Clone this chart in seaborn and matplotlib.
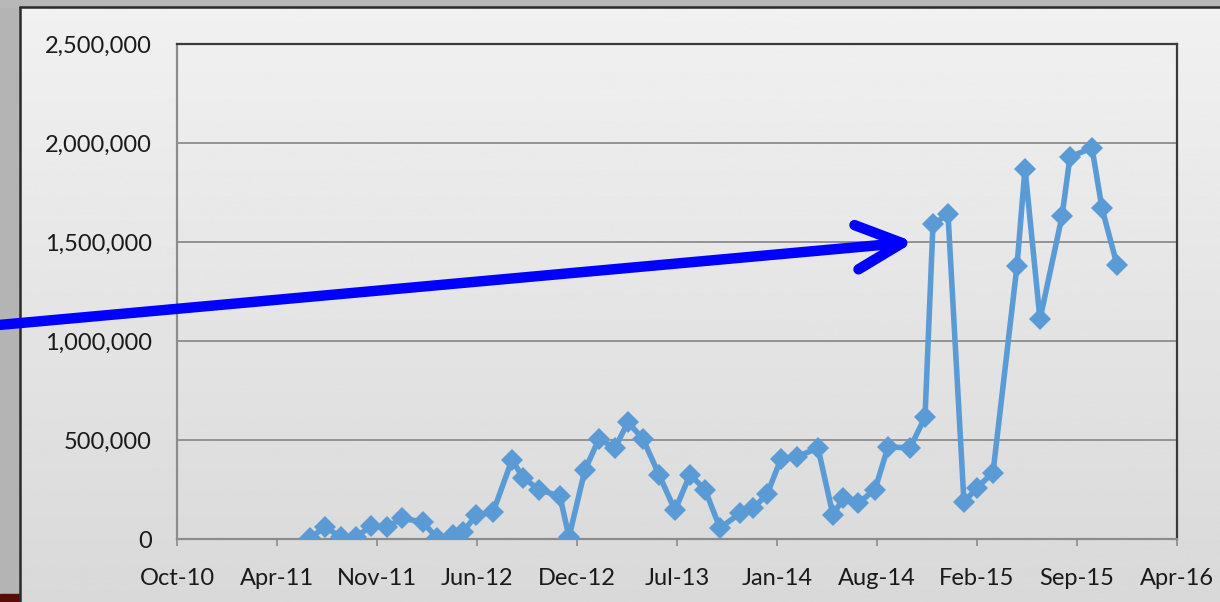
import numpy as np
import pandas as pd
import matplotlib
matplotlib.use("Agg")
import matplotlib.pyplot as plt
import matplotlib.dates as mdates
from matplotlib.ticker import FuncFormatter, MultipleLocator
import seaborn as sns

# Datos
fechas = [
    "2011-07-04", "2011-08-03", "2011-09-04", "2011-10-04", "2011-11-03", "2011-12-05",
    "2012-01-04", "2012-02-15", "2012-03-14", "2012-04-15", "2012-05-05", "2012-05-31",
    "2012-07-04", "2012-08-11", "2012-09-02", "2012-10-04", "2012-11-15", "2012-12-03",
    "2013-01-04", "2013-02-01", "2013-03-05", "2013-03-31", "2013-04-30", "2013-06-01",
    "2013-07-03", "2013-08-02", "2013-09-01", "2013-10-01", "2013-11-10", "2013-12-06",
    "2014-01-03", "2014-01-31", "2014-03-04", "2014-04-15", "2014-05-15", "2014-06-04",
    "2014-07-04", "2014-08-07", "2014-09-02", "2014-10-16", "2014-11-15", "2014-12-01",
    "2014-12-31", "2015-02-01", "2015-02-27", "2015-03-31", "2015-05-18", "2015-06-03",
    "2015-07-03", "2015-08-16", "2015-09-01", "2015-10-15", "2015-11-04", "2015-12-04",
]
valores = [
    5000, 60000, 10000, 10000, 65000, 60000,
    105000, 85000, 5000, 20000, 35000, 120000,
    135000, 400000, 310000, 250000, 215000, 10000,
    350000, 505000, 460000, 590000, 505000, 325000,
    145000, 325000, 250000, 55000, 130000, 155000,
    225000, 405000, 415000, 460000, 120000, 205000,
    180000, 250000, 465000, 460000, 615000, 1590000,
    1640000, 185000, 260000, 335000, 1380000, 1870000,
    1110000, 1630000, 1930000, 1975000, 1670000, 1385000,
]
eje_inicio = "2010-10-11"
punta_flecha = ("2014-10-24", 1500000)

df = pd.DataFrame({"fecha": pd.to_datetime(fechas), "valor": valores})

sns.set_style("white")
plt.rcParams["font.family"] = ["Lato", "DejaVu Sans"]

fig = plt.figure(figsize=(12.2, 6.02), dpi=100)

# Fondo degradado de toda la figura
bg = fig.add_axes([0, 0, 1, 1], zorder=-10)
grad = np.linspace(0.945, 0.85, 256).reshape(-1, 1)
bg.imshow(grad, cmap="gray", vmin=0, vmax=1, aspect="auto", extent=[0, 1, 0, 1])
bg.set_xlim(0, 1)
bg.set_ylim(0, 1)
bg.axis("off")
W, H = 1220, 602
bg.add_patch(plt.Rectangle((0, 0), 19 / W, 1, color="#b4b4b4", zorder=2))
bg.add_patch(plt.Rectangle((0, 1 - 7 / H), 1, 7 / H, color="#b8b8b8", zorder=2))
bg.add_patch(plt.Rectangle((0, 0), 19 / W, 8 / H, color="#5a0a0a", zorder=3))
bg.plot([20 / W, 20 / W], [0, 1 - 7 / H], color="#2a2a2a", lw=1.8, zorder=4)
bg.plot([20 / W, 1], [1 - 7 / H, 1 - 7 / H], color="#2a2a2a", lw=1.8, zorder=4)

ax = fig.add_axes([177 / W, 1 - 539 / H, 1000 / W, 495 / H])
ax.set_facecolor("none")

sns.lineplot(data=df, x="fecha", y="valor", ax=ax, color="#5b9bd5",
             linewidth=4, marker="D", markersize=11.5, markeredgewidth=0,
             zorder=3)

inicio = pd.Timestamp(eje_inicio)
ticks = pd.date_range(inicio, periods=11, freq="200D")
ax.set_xlim(ticks[0], ticks[-1])
ax.set_xticks(ticks)
ax.xaxis.set_major_formatter(mdates.DateFormatter("%b-%y"))
ax.set_ylim(0, 2500000)
ax.yaxis.set_major_locator(MultipleLocator(500000))
ax.yaxis.set_major_formatter(FuncFormatter(lambda v, p: f"{v:,.0f}"))
ax.set_xlabel("")
ax.set_ylabel("")

ax.grid(axis="y", color="#8c8c8c", linewidth=1.3)
ax.grid(axis="x", visible=False)
ax.set_axisbelow(True)
for lado in ["top", "right"]:
    ax.spines[lado].set_color("#3a3a3a")
    ax.spines[lado].set_linewidth(1.6)
for lado in ["left", "bottom"]:
    ax.spines[lado].set_color("#8c8c8c")
    ax.spines[lado].set_linewidth(1.6)

ax.tick_params(axis="both", direction="out", length=5, width=1.2,
               color="#8c8c8c", labelsize=17, labelcolor="#1a1a1a")
ax.tick_params(axis="y", pad=13)
ax.tick_params(axis="x", pad=16, bottom=True)

# Flecha azul
ax.annotate("", xy=(pd.Timestamp(punta_flecha[0]), punta_flecha[1]), xycoords="data",
            xytext=(-0.01, 1 - 326 / H), textcoords="figure fraction",
            arrowprops=dict(arrowstyle="->,head_length=0.33,head_width=0.16",
                            mutation_scale=100, color="#0000ff", lw=7.5,
                            shrinkA=0, shrinkB=0, capstyle="round",
                            joinstyle="round"),
            annotation_clip=False, zorder=6)

fig.savefig("out.png", dpi=100)
